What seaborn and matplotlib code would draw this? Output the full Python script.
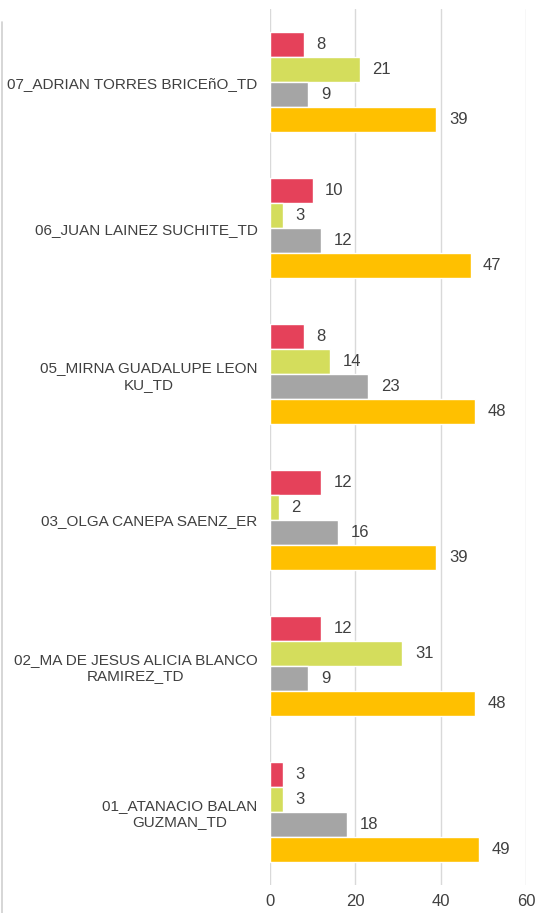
import pandas as pd
import matplotlib
matplotlib.use("Agg")
import matplotlib.pyplot as plt
import seaborn as sns

# datos del reporte
nombres = [
    "07_ADRIAN TORRES BRICEñO_TD",
    "06_JUAN LAINEZ SUCHITE_TD",
    "05_MIRNA GUADALUPE LEON\nKU_TD",
    "03_OLGA CANEPA SAENZ_ER",
    "02_MA DE JESUS ALICIA BLANCO\nRAMIREZ_TD",
    "01_ATANACIO BALAN\nGUZMAN_TD",
]
series = ["Serie 1", "Serie 2", "Serie 3", "Serie 4"]
serie_1 = [8, 10, 8, 12, 12, 3]
serie_2 = [21, 3, 14, 2, 31, 3]
serie_3 = [9, 12, 23, 16, 9, 18]
serie_4 = [39, 47, 48, 39, 48, 49]
colores = ["#E5415A", "#D4DD5C", "#A5A5A5", "#FFC000"]

rows = []
for s, vals in zip(series, [serie_1, serie_2, serie_3, serie_4]):
    for n, v in zip(nombres, vals):
        rows.append({"nombre": n, "serie": s, "valor": v})
df = pd.DataFrame(rows)

sns.set_style("white")
plt.rcParams["font.family"] = ["Liberation Sans", "DejaVu Sans"]

fig = plt.figure(figsize=(5.39, 9.13), dpi=100)
ax = fig.add_axes([0.501, 0.031, 0.475, 0.959])

sns.barplot(data=df, y="nombre", x="valor", hue="serie", order=nombres,
            hue_order=series, palette=colores, orient="h", width=0.685,
            saturation=1, legend=False, ax=ax)

for cont in ax.containers:
    ax.bar_label(cont, padding=9, fontsize=12, color="#404040")

ax.set_xlim(0, 60)
ax.set_xticks([0, 20, 40, 60])
ax.grid(axis="x", color="#D9D9D9", linewidth=1)
ax.set_axisbelow(True)
ax.set_xlabel("")
ax.set_ylabel("")
for sp in ax.spines.values():
    sp.set_visible(False)
ax.tick_params(axis="x", length=0, labelsize=12, labelcolor="#404040", pad=7)
ax.tick_params(axis="y", length=0, labelsize=11, labelcolor="#404040", pad=9)
for lab in ax.get_yticklabels():
    lab.set_multialignment("center")

# borde izquierdo
fig.add_artist(plt.Line2D([0.004, 0.004], [0, 0.976], color="#D0D0D0", linewidth=1.2))

fig.savefig("out.png", dpi=100)
